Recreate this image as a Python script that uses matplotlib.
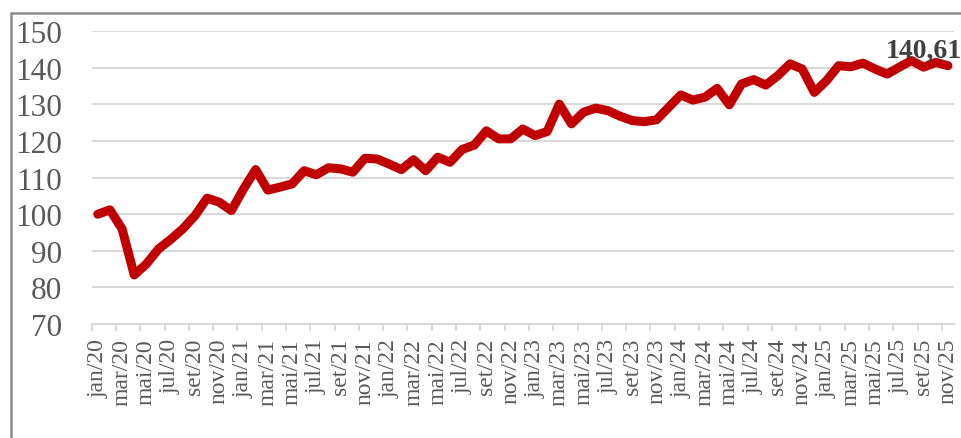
import matplotlib
matplotlib.use("Agg")
import matplotlib.pyplot as plt
from matplotlib.patches import Rectangle

# Monthly index, jan/2020 = 100
months = ["jan", "fev", "mar", "abr", "mai", "jun",
          "jul", "ago", "set", "out", "nov", "dez"]
years = ["20", "21", "22", "23", "24", "25"]

values = [
    100.0, 101.2, 96.0, 83.4, 86.4, 90.5, 93.1, 96.0, 99.6, 104.4, 103.3, 101.0,   # 2020
    106.9, 112.2, 106.6, 107.4, 108.3, 111.9, 110.8, 112.7, 112.4, 111.5, 115.3, 115.1,  # 2021
    113.7, 112.2, 114.9, 111.9, 115.6, 114.2, 117.7, 118.9, 122.8, 120.6, 120.6, 123.3,  # 2022
    121.5, 122.6, 130.1, 124.7, 127.9, 129.0, 128.3, 126.8, 125.6, 125.3, 125.8, 129.2,  # 2023
    132.6, 131.2, 132.0, 134.4, 129.9, 135.6, 136.8, 135.3, 137.9, 141.1, 139.7, 133.3,  # 2024
    136.5, 140.6, 140.3, 141.3, 139.7, 138.3, 140.2, 142.0, 140.2, 141.5, 140.61,        # 2025
]
last_label = "140,61"

labels = [f"{m}/{y}" for y in years for m in months][:len(values)]

RED = "#C00000"
GRID = "#D9D9D9"
TXT = "#595959"
SERIF = ["Liberation Serif", "DejaVu Serif"]

fig = plt.figure(figsize=(9.61, 4.39), dpi=100)
W, H = 961, 439
ax = fig.add_axes([91.7 / W, 1 - 325 / H, (954 - 91.7) / W, (325 - 32.3) / H])

x = list(range(len(values)))
ax.plot(x, values, color=RED, lw=6.5, solid_capstyle="round",
        solid_joinstyle="round", zorder=3)

ax.set_xlim(-0.5, len(values) - 0.5)
ax.set_ylim(70, 150)
ax.set_yticks(range(70, 151, 10))
ax.yaxis.grid(True, color=GRID, lw=1.5)
ax.set_axisbelow(True)

ax.set_xticks(x[::2])
ax.set_xticklabels(labels[::2], rotation=90, family=SERIF, fontsize=17,
                   color=TXT)
ax.set_xticks([i - 0.5 for i in x[::2]], minor=True)
ax.tick_params(axis="x", which="major", length=0, pad=10)
ax.tick_params(axis="x", which="minor", length=5, width=1.5, color=GRID)
ax.tick_params(axis="y", length=0, pad=21.4, labelsize=22.5, labelcolor=TXT)
for t in ax.get_yticklabels():
    t.set_family(SERIF)

for s in ["top", "right", "left"]:
    ax.spines[s].set_visible(False)
ax.spines["bottom"].set_color(GRID)
ax.spines["bottom"].set_linewidth(1.5)
ax.spines["bottom"].set_zorder(1)

ax.annotate(last_label, xy=(x[-1], values[-1]), xytext=(-44.5, 6.3),
            textcoords="offset points", ha="left", va="baseline",
            family=SERIF, fontsize=20, fontweight="bold", color="#404040",
            annotation_clip=False)

# chart frame
fig.patches.append(Rectangle((10.5 / W, -0.1), 1.2, 1.1 - 14 / H,
                             transform=fig.transFigure, fill=False,
                             edgecolor="#8C8C8C", lw=1.8, clip_on=False))

fig.savefig("out.png", dpi=100, facecolor="white")
